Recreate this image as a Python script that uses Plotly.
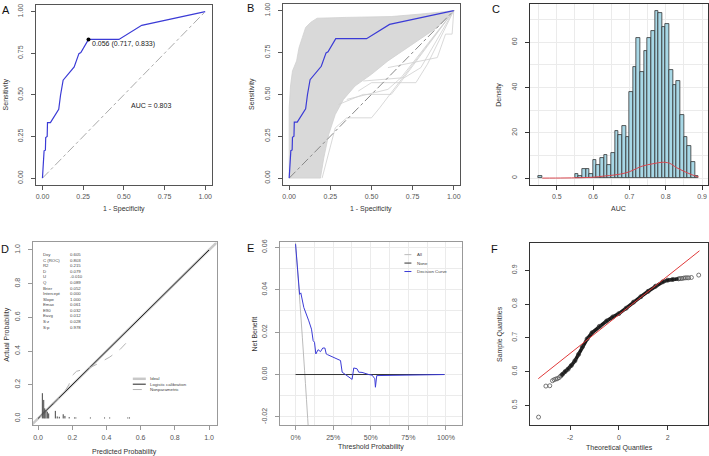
import plotly.graph_objects as go

W, H = 709, 456

# ======================= DATA =======================
# Panel A / B : apparent ROC curve
roc_fpr = [0.0, 0.004, 0.010, 0.018, 0.020, 0.029, 0.031, 0.049, 0.100, 0.111, 0.127, 0.195, 0.224, 0.236, 0.283, 0.470, 0.610, 1.0]
roc_tpr = [0.0, 0.114, 0.164, 0.168, 0.244, 0.250, 0.334, 0.334, 0.414, 0.498, 0.588, 0.668, 0.748, 0.754, 0.833, 0.833, 0.918, 1.0]
best_fpr = [0.283]
best_tpr = [0.833]
best_label = "0.056 (0.717, 0.833)"
auc_label = "AUC = 0.803"
diag = [0.0, 1.0]

# Panel B : bootstrap ROC curves (dense band + sparse curves)
band_upper_x = [0.0, 0.0, 0.008, 0.02, 0.045, 0.06, 0.08, 0.10, 0.13, 0.17, 0.35, 0.62, 0.80, 1.0]
band_upper_y = [0.0, 0.42, 0.55, 0.64, 0.70, 0.78, 0.84, 0.90, 0.93, 0.955, 0.96, 0.965, 0.98, 1.0]
band_lower_x = [1.0, 0.90, 0.75, 0.60, 0.50, 0.40, 0.33, 0.28, 0.24, 0.21, 0.19, 0.0]
band_lower_y = [1.0, 0.90, 0.80, 0.70, 0.62, 0.55, 0.47, 0.38, 0.26, 0.12, 0.0, 0.0]
boot1_x = [0.20, 0.28, 0.35, 0.50, 0.55, 1.0]
boot1_y = [0.0, 0.30, 0.36, 0.36, 0.42, 1.0]
boot2_x = [0.30, 0.45, 0.62, 0.66, 1.0]
boot2_y = [0.44, 0.50, 0.50, 0.55, 1.0]
boot3_x = [0.42, 0.50, 0.77, 0.84, 1.0]
boot3_y = [0.52, 0.57, 0.57, 0.68, 1.0]
boot4_x = [0.60, 0.88, 0.90, 0.95, 0.99, 1.0]
boot4_y = [0.66, 0.72, 0.72, 0.86, 0.86, 1.0]
boot5_x = [0.45, 0.70, 0.80, 1.0]
boot5_y = [0.58, 0.60, 0.66, 1.0]
boot6_x = [0.35, 0.60, 0.68, 1.0]
boot6_y = [0.47, 0.53, 0.60, 1.0]

# Panel C : histogram of bootstrap AUC
hist_left = [0.45, 0.55, 0.56, 0.57, 0.58, 0.59, 0.60, 0.61, 0.62, 0.63, 0.64, 0.65, 0.66, 0.67, 0.68, 0.69,
             0.70, 0.71, 0.72, 0.73, 0.74, 0.75, 0.76, 0.77, 0.78, 0.79, 0.80, 0.81, 0.82, 0.83, 0.84, 0.85,
             0.86, 0.87, 0.88]
hist_count = [1, 2, 1, 4, 4, 2, 8, 6, 9, 10, 6, 11, 21, 19, 23, 18,
              38, 49, 62, 47, 56, 62, 65, 74, 73, 67, 68, 48, 41, 43, 28, 18,
              14, 7, 1]
bin_width = 0.01
dens_x = [0.46, 0.52, 0.56, 0.60, 0.63, 0.66, 0.69, 0.71, 0.73, 0.75, 0.77, 0.79, 0.81, 0.83, 0.85, 0.87, 0.89]
dens_y = [0.0, 0.05, 0.15, 0.4, 0.9, 1.4, 2.3, 3.5, 5.0, 5.9, 6.5, 7.0, 6.6, 4.6, 3.0, 1.6, 0.5]

# Panel D : calibration
cal_labels = ["Dxy", "C (ROC)", "R2", "D", "U", "Q", "Brier", "Intercept", "Slope", "Emax", "E90", "Eavg", "S:z", "S:p"]
cal_values = ["0.605", "0.803", "0.215", "0.079", "-0.010", "0.089", "0.052", "0.000", "1.000", "0.061", "0.032", "0.012", "0.028", "0.978"]
ideal_x = [-0.05, 1.05]
ideal_y = [-0.05, 1.05]
logit_x = [0.0, 1.0]
logit_y = [0.0, 1.0]
np_x = [0.01, 0.05, 0.10, 0.15, 0.18, 0.20, 0.225, 0.26, 0.30, 0.35, 0.42, 0.48, 0.545]
np_y = [0.01, 0.045, 0.095, 0.15, 0.20, 0.255, 0.28, 0.29, 0.30, 0.325, 0.365, 0.41, 0.48]
spike_x = [0.025, 0.033, 0.039, 0.046, 0.054, 0.062, 0.101, 0.112, 0.124, 0.147, 0.157, 0.182, 0.213, 0.221, 0.306, 0.389, 0.419, 0.525, 0.535]
spike_h = [0.15, 0.11, 0.06, 0.05, 0.04, 0.03, 0.045, 0.012, 0.01, 0.025, 0.015, 0.008, 0.006, 0.006, 0.006, 0.006, 0.006, 0.006, 0.006]

# Panel E : decision curve
dc_x = [0.0, 0.011, 0.027, 0.035, 0.040, 0.055, 0.088, 0.106, 0.117, 0.126, 0.135, 0.150, 0.166, 0.181, 0.195,
        0.204, 0.212, 0.299, 0.310, 0.376, 0.387, 0.409, 0.420, 0.442, 0.487, 0.509, 0.527, 0.531, 0.540, 0.99]
dc_y = [0.0615, 0.0527, 0.0378, 0.0385, 0.0370, 0.0316, 0.0253, 0.0214, 0.0160, 0.0152, 0.0097, 0.0117, 0.0108, 0.0125, 0.0125,
        0.0097, 0.0094, 0.0066, 0.0011, -0.0023, 0.0031, 0.0027, 0.0011, 0.0010, 0.0, -0.0003, -0.0020, -0.0060, -0.0005, 0.0]
all_x = [0.0, 0.03, 0.06, 0.09]
all_y = [0.062, 0.033, 0.002, -0.031]
none_x = [0.0, 0.99]
none_y = [0.0, 0.0]

# Panel F : normal Q-Q plot
qq_core_x = [-2.38, -2.31, -2.2, -2.08, -1.95, -1.8, -1.65, -1.5, -1.3, -1.1, -0.8, -0.5, -0.25, 0.0, 0.3, 0.6, 0.9,
             1.2, 1.5, 1.8, 2.0, 2.2, 2.45]
qq_core_y = [0.587, 0.592, 0.600, 0.607, 0.618, 0.632, 0.651, 0.673, 0.697, 0.715, 0.734, 0.750, 0.762, 0.772, 0.788,
             0.806, 0.822, 0.838, 0.853, 0.866, 0.871, 0.873, 0.875]
qq_tail_x = [-3.29, -2.99, -2.83, -2.72, -2.65, -2.58, -2.52, -2.45, 2.52, 2.58, 2.65, 2.72, 2.79, 2.86, 2.97, 3.27]
qq_tail_y = [0.465, 0.557, 0.558, 0.573, 0.576, 0.578, 0.579, 0.582, 0.876, 0.876, 0.877, 0.878, 0.878, 0.878, 0.879, 0.886]
qqline_x = [-3.30, 3.30]
qqline_y = [0.579, 0.958]

# ======================= STYLE =======================
FONT = "Liberation Sans, Arial, sans-serif"
TICK = dict(family=FONT, size=7, color="#555555")
TITLE = dict(family=FONT, size=7, color="#333333")
GRID = "#EBEBEB"
BLUE = "#3B3BD6"


def px(x):
    return x / W


def py(y):
    return 1 - y / H


fig = go.Figure()


def axis_pair(n, xdom, ydom, xr, yr, xt, xtt, yt, ytt, box, xgrid=None, ygrid=None, xso=1, yso=5):
    sx = "" if n == 1 else str(n)
    common = dict(showline=True, mirror=True, linecolor=box, linewidth=1, ticks="outside", ticklen=4,
                  tickwidth=1, tickcolor=box, tickfont=TICK, zeroline=False, showgrid=False, fixedrange=True)
    xa = dict(common, domain=[px(xdom[0]), px(xdom[1])], range=xr, anchor="y" + sx, tickmode="array",
              tickvals=xt, ticktext=xtt, ticklabelstandoff=xso)
    ya = dict(common, domain=[py(ydom[1]), py(ydom[0])], range=yr, anchor="x" + sx, tickmode="array",
              tickvals=yt, ticktext=ytt, tickangle=-90, ticklabelstandoff=yso)
    if xgrid is not None:
        xa["showgrid"] = True
        xa["gridcolor"] = GRID
        xa["minor"] = dict(tickmode="array", tickvals=xgrid, showgrid=True, gridcolor=GRID, ticks="")
    if ygrid is not None:
        ya["showgrid"] = True
        ya["gridcolor"] = GRID
        ya["minor"] = dict(tickmode="array", tickvals=ygrid, showgrid=True, gridcolor=GRID, ticks="")
    fig.update_layout(**{"xaxis" + sx: xa, "yaxis" + sx: ya})


def ax(n):
    s = "" if n == 1 else str(n)
    return dict(xaxis="x" + s, yaxis="y" + s)


def fmt(vals, f):
    return [f.format(v) for v in vals]


# ---------- Panel A ----------
t4 = [0, 0.25, 0.5, 0.75, 1.0]
axis_pair(1, (36, 212), (2, 183), [-0.04, 1.04], [-0.04, 1.04], t4, fmt(t4, "{:.2f}"), t4, fmt(t4, "{:.2f}"), "#555555")
fig.add_trace(go.Scatter(x=diag, y=diag, mode="lines", line=dict(color="#AAAAAA", width=1, dash="dashdot"), **ax(1)))
fig.add_trace(go.Scatter(x=roc_fpr, y=roc_tpr, mode="lines", line=dict(color=BLUE, width=1.2), **ax(1)))
fig.add_trace(go.Scatter(x=best_fpr, y=best_tpr, mode="markers", marker=dict(color="black", size=4), **ax(1)))
fig.add_annotation(x=best_fpr[0] + 0.012, y=best_tpr[0] - 0.025, xref="x", yref="y", text=best_label, showarrow=False,
                   xanchor="left", yanchor="middle", font=dict(family=FONT, size=7, color="#222222"))
fig.add_annotation(x=0.665, y=0.438, xref="x", yref="y", text=auc_label, showarrow=False,
                   font=dict(family=FONT, size=7, color="#222222"))

# ---------- Panel B ----------
axis_pair(2, (283, 461), (1, 183), [-0.04, 1.04], [-0.04, 1.04], t4, fmt(t4, "{:.2f}"), t4, fmt(t4, "{:.2f}"), "#555555")
fig.add_trace(go.Scatter(x=band_upper_x + band_lower_x, y=band_upper_y + band_lower_y, mode="lines", fill="toself",
                         fillcolor="#D9D9D9", line=dict(color="#D0D0D0", width=0.8), **ax(2)))
for bx, by in [(boot1_x, boot1_y), (boot2_x, boot2_y), (boot3_x, boot3_y), (boot4_x, boot4_y), (boot5_x, boot5_y),
               (boot6_x, boot6_y)]:
    fig.add_trace(go.Scatter(x=bx, y=by, mode="lines", line=dict(color="#CFCFCF", width=0.8), **ax(2)))
fig.add_trace(go.Scatter(x=diag, y=diag, mode="lines", line=dict(color="#888888", width=1, dash="dashdot"), **ax(2)))
fig.add_trace(go.Scatter(x=roc_fpr, y=roc_tpr, mode="lines", line=dict(color=BLUE, width=1.2), **ax(2)))

# ---------- Panel C ----------
cx = [0.5, 0.6, 0.7, 0.8, 0.9]
cy = [0, 20, 40, 60]
axis_pair(3, (531, 708.5), (1, 183), [0.427, 0.915], [-2.96, 76.96], cx, fmt(cx, "{:.1f}"), cy, fmt(cy, "{:d}"),
          "#333333", xgrid=[0.45, 0.55, 0.65, 0.75, 0.85], ygrid=[10, 30, 50, 70])
fig.add_trace(go.Bar(x=[l + bin_width / 2 for l in hist_left], y=hist_count, width=bin_width,
                     marker=dict(color="#A8D8E6", line=dict(color="#333333", width=0.8)), **ax(3)))
fig.add_trace(go.Scatter(x=dens_x, y=dens_y, mode="lines", line=dict(color="#D9474F", width=1), line_shape="spline", **ax(3)))

# ---------- Panel D ----------
dt = [0, 0.2, 0.4, 0.6, 0.8, 1.0]
axis_pair(4, (33, 217), (241, 425), [-0.03, 1.045], [-0.04, 1.045], dt, fmt(dt, "{:.1f}"), dt, fmt(dt, "{:.1f}"), "#999999")
fig.add_trace(go.Scatter(x=ideal_x, y=ideal_y, mode="lines", line=dict(color="#C8C8C8", width=2.5), **ax(4)))
fig.add_trace(go.Scatter(x=logit_x, y=logit_y, mode="lines", line=dict(color="#222222", width=1), **ax(4)))
fig.add_trace(go.Scatter(x=np_x, y=np_y, mode="lines", line=dict(color="#B5B5B5", width=1, dash="dash"), **ax(4)))
sx_, sy_ = [], []
for xv, hv in zip(spike_x, spike_h):
    sx_ += [xv, xv, None]
    sy_ += [0.0, hv, None]
fig.add_trace(go.Scatter(x=sx_, y=sy_, mode="lines", line=dict(color="#444444", width=1), **ax(4)))
fig.add_annotation(x=0.017, y=1.0, xref="x4", yref="y4", text="<br>".join(cal_labels), showarrow=False,
                   xanchor="left", yanchor="top", align="left", font=dict(family=FONT, size=4.3, color="#444444"))
fig.add_annotation(x=0.174, y=1.0, xref="x4", yref="y4", text="<br>".join(cal_values), showarrow=False,
                   xanchor="left", yanchor="top", align="left", font=dict(family=FONT, size=4.3, color="#444444"))
# legend for D
for i, (name, col, wd, dsh) in enumerate([("Ideal", "#C8C8C8", 2.5, "solid"), ("Logistic calibration", "#222222", 1, "solid"),
                                          ("Nonparametric", "#B5B5B5", 1, "dash")]):
    yy = 378.3 + i * 5.4
    fig.add_shape(type="line", xref="paper", yref="paper", x0=px(133), x1=px(146), y0=py(yy), y1=py(yy),
                  line=dict(color=col, width=wd, dash=dsh))
    fig.add_annotation(x=px(148), y=py(yy), xref="paper", yref="paper", text=name, showarrow=False,
                       xanchor="left", yanchor="middle", font=dict(family=FONT, size=4.4, color="#444444"))

# ---------- Panel E ----------
ex = [0, 0.25, 0.5, 0.75, 1.0]
ey = [-0.02, 0.0, 0.02, 0.04, 0.06]
axis_pair(5, (280, 463), (241, 425), [-0.106, 1.109], [-0.0239, 0.0623], ex, ["0%", "25%", "50%", "75%", "100%"],
          ey, ["-0.02", "0.00", "0.02", "0.04", "0.06"], "#999999",
          xgrid=[0.125, 0.375, 0.625, 0.875], ygrid=[-0.01, 0.01, 0.03, 0.05])
fig.add_trace(go.Scatter(x=all_x, y=all_y, mode="lines", line=dict(color="#BBBBBB", width=1), line_shape="spline", **ax(5)))
fig.add_trace(go.Scatter(x=none_x, y=none_y, mode="lines", line=dict(color="#333333", width=1), **ax(5)))
fig.add_trace(go.Scatter(x=dc_x, y=dc_y, mode="lines", line=dict(color=BLUE, width=1), **ax(5)))
for i, (name, col) in enumerate([("All", "#BBBBBB"), ("None", "#333333"), ("Decision Curve", BLUE)]):
    yy = 253.3 + i * 8.5
    fig.add_shape(type="line", xref="paper", yref="paper", x0=px(405), x1=px(412), y0=py(yy), y1=py(yy),
                  line=dict(color=col, width=1))
    fig.add_annotation(x=px(416), y=py(yy), xref="paper", yref="paper", text=name, showarrow=False,
                       xanchor="left", yanchor="middle", font=dict(family=FONT, size=4.4, color="#444444"))

# ---------- Panel F ----------
fx = [-2, 0, 2]
fyv = [0.5, 0.6, 0.7, 0.8, 0.9]
axis_pair(6, (531, 708.5), (242, 425), [-3.63, 3.63], [0.441, 0.980], fx, ["-2", "0", "2"], fyv, fmt(fyv, "{:.1f}"), "#333333")
fig.add_trace(go.Scatter(x=qq_core_x, y=qq_core_y, mode="lines+markers", line=dict(color="#1A1A1A", width=3.5),
                         marker=dict(symbol="circle-open", size=4, color="#333333", line=dict(width=0.8)), **ax(6)))
fig.add_trace(go.Scatter(x=qq_tail_x, y=qq_tail_y, mode="markers",
                         marker=dict(symbol="circle-open", size=4, color="#555555", line=dict(width=0.8)), **ax(6)))
fig.add_trace(go.Scatter(x=qqline_x, y=qqline_y, mode="lines", line=dict(color="#E03A3A", width=1), **ax(6)))

# ---------- Titles & panel letters ----------
def title(x, y, text, rot=False):
    fig.add_annotation(x=px(x), y=py(y), xref="paper", yref="paper", text=text, showarrow=False,
                       textangle=-90 if rot else 0, font=TITLE, xanchor="center", yanchor="middle")

title(124, 207, "1 - Specificity")
title(6, 92, "Sensitivity", True)
title(372, 207, "1 - Specificity")
title(253, 92, "Sensitivity", True)
title(619, 207, "AUC")
title(500, 92, "Density", True)
title(125, 452, "Predicted Probability")
title(7, 333, "Actual Probability", True)
title(372, 447, "Threshold Probability")
title(255, 333, "Net Benefit", True)
title(620, 448, "Theoretical Quantiles")
title(501, 333, "Sample Quantiles", True)

for lx, ly, lt in [(6, 7, "A"), (251, 5, "B"), (497, 6, "C"), (5, 248, "D"), (251, 247, "E"), (495, 248, "F")]:
    fig.add_annotation(x=px(lx), y=py(ly), xref="paper", yref="paper", text=lt, showarrow=False,
                       font=dict(family=FONT, size=11, color="#111111"), xanchor="center", yanchor="middle")

fig.update_layout(width=W, height=H, margin=dict(l=0, r=0, t=0, b=0), paper_bgcolor="white", plot_bgcolor="white",
                  showlegend=False, bargap=0)

fig.write_html("out.html")
